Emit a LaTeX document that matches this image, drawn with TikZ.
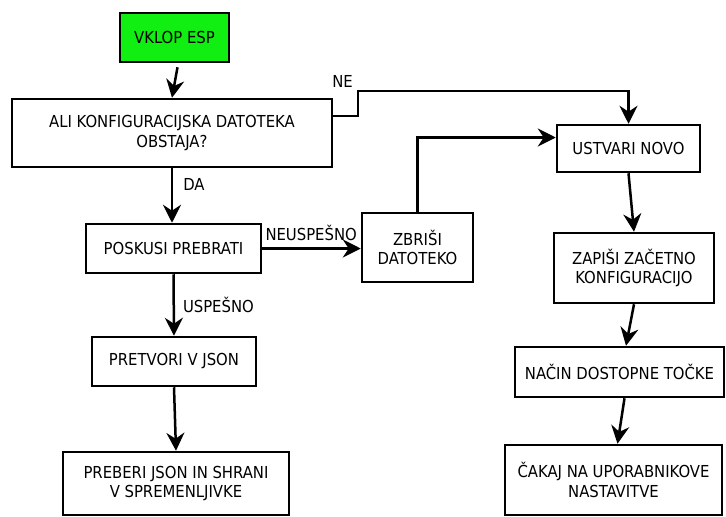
\documentclass[tikz,border=0pt]{standalone}
\usepackage{fontspec}
\setmainfont{DejaVu Sans Condensed}
\usetikzlibrary{arrows.meta}
\definecolor{vklop}{RGB}{17,238,17}
\tikzset{
  korak/.style={draw, line width=2.5pt, align=center, inner sep=0pt,
    font=\fontsize{16.5}{19.5}\selectfont},
  puscica/.style={line width=2.5pt, -{Stealth[length=18pt, width=18pt, inset=6pt]}},
  oznaka/.style={font=\fontsize{16.5}{19.5}\selectfont, inner sep=2pt}
}

\begin{document}
\begin{tikzpicture}[x=1pt, y=-1pt]
        \useasboundingbox (0,0) rectangle (726,517);

        % levi stolpec
        \node[korak, fill=vklop, minimum width=109pt, minimum height=49pt] (vklop) at (174.5,37.5) {VKLOP ESP};
        \node[korak, minimum width=320pt, minimum height=68pt] (obstaja) at (172,133) {ALI KONFIGURACIJSKA DATOTEKA\\OBSTAJA?};
        \node[korak, minimum width=175pt, minimum height=49pt] (prebrati) at (173.5,248.5) {POSKUSI PREBRATI};
        \node[korak, minimum width=164pt, minimum height=49pt] (json) at (174,361.5) {PRETVORI V JSON};
        \node[korak, minimum width=226pt, minimum height=63pt] (shrani) at (176,483.5) {PREBERI JSON IN SHRANI\\V SPREMENLJIVKE};

        % desni stolpec
        \node[korak, minimum width=111pt, minimum height=69pt] (zbrisi) at (417.5,247.5) {ZBRIŠI\\DATOTEKO};
        \node[korak, minimum width=143pt, minimum height=47pt] (novo) at (628.5,148.5) {USTVARI NOVO};
        \node[korak, minimum width=160pt, minimum height=70pt] (zapisi) at (634,268) {ZAPIŠI ZAČETNO\\KONFIGURACIJO};
        \node[korak, minimum width=209pt, minimum height=50pt] (tocka) at (619.5,372) {NAČIN DOSTOPNE TOČKE};
        \node[korak, minimum width=217pt, minimum height=70pt] (cakaj) at (613.5,480) {ČAKAJ NA UPORABNIKOVE\\NASTAVITVE};

        \coordinate (ne) at (358,91);

        % povezave
        \draw[puscica] ([xshift=3pt, yshift=-4pt]vklop.south) -- (obstaja.north);
        \draw[puscica] (obstaja.south) -- node[oznaka, pos=0.3, right=8pt] {DA} (obstaja.south |- prebrati.north);
        \draw[puscica] ([yshift=17pt]obstaja.east) -| (ne) node[oznaka, anchor=south east, xshift=-2pt] {NE} -| (novo.north);
        \draw[puscica] (prebrati.east) node[oznaka, anchor=south west, yshift=5pt] {NEUSPEŠNO} -- (prebrati.east -| zbrisi.west);
        \draw[puscica] (prebrati.south) -- node[oznaka, midway, right=6pt] {USPEŠNO} (json.north);
        \draw[puscica] (json.south) -- (shrani.north);
        \draw[puscica] (zbrisi.north) |- ([yshift=11pt]novo.west);
        \draw[puscica] (novo.south) -- (zapisi.north);
        \draw[puscica] (zapisi.south) -- ([xshift=6.5pt]tocka.north);
        \draw[puscica] ([xshift=5pt]tocka.south) -- ([xshift=4pt]cakaj.north);

\end{tikzpicture}
\end{document}
